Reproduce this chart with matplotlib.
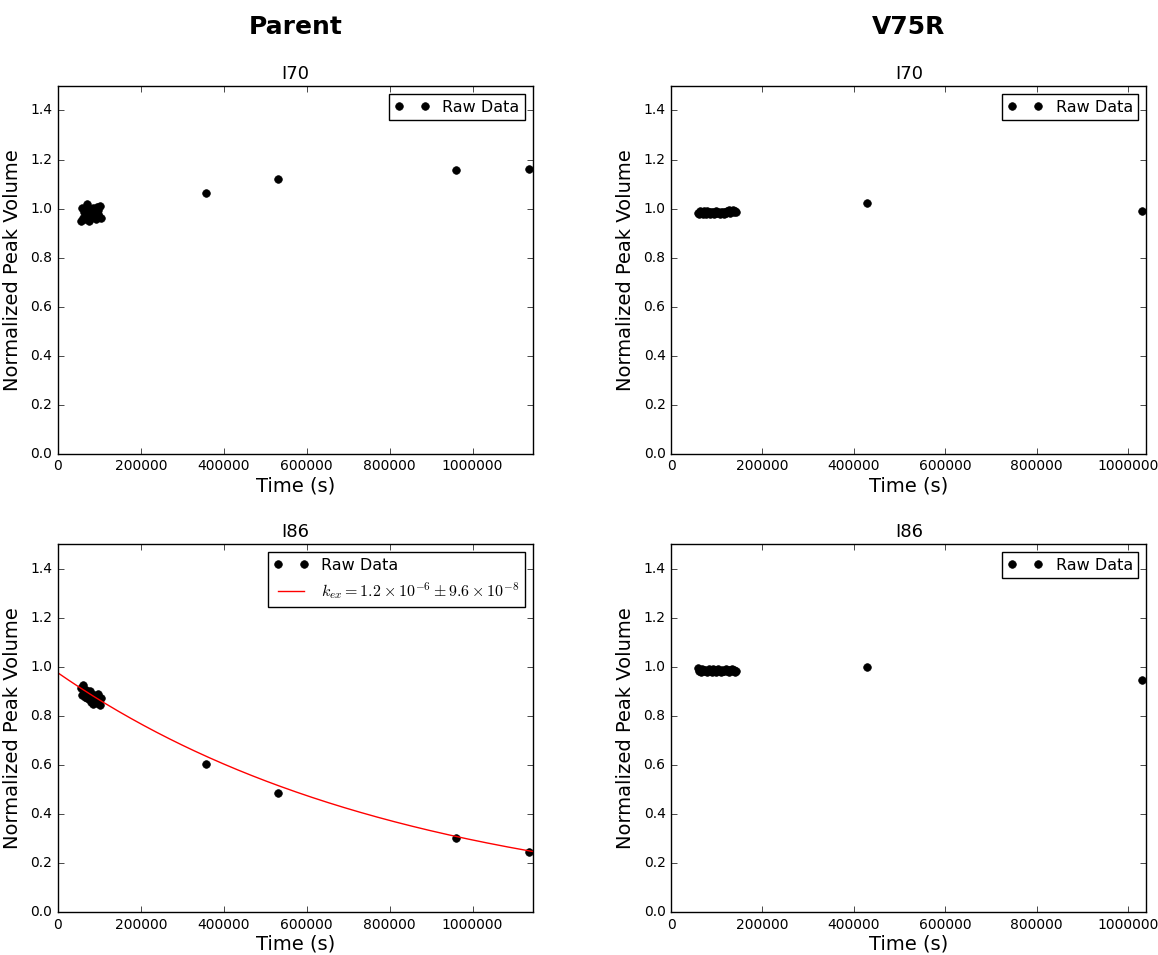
import numpy as np
import matplotlib
matplotlib.use('Agg')
import matplotlib.pyplot as plt

plt.style.use('classic')

# time points (s)
parent_t = [56000, 58200, 60400, 62600, 64800, 67000, 69200, 71400, 73600, 75800,
            78000, 80200, 82400, 84600, 86800, 89000, 91200, 93400, 95600, 97800,
            100000, 102200, 104400, 358000, 530000, 961000, 1135000]
v75r_t = [58000, 60400, 62800, 65200, 67600, 70000, 72400, 74800, 77200, 79600,
          82000, 84400, 86800, 89200, 91600, 94000, 96400, 98800, 101200, 103600,
          106000, 108400, 110800, 113200, 115600, 118000, 120400, 122800, 125200, 127600,
          130000, 132400, 134800, 137200, 139600, 142000, 428000, 1030000]

# normalized peak volumes
parent_i70 = [0.948, 1.002, 0.962, 0.985, 0.957, 0.993, 1.018, 0.969, 0.975, 0.951,
              0.998, 0.983, 0.966, 1.004, 0.972, 0.990, 0.958, 1.008, 0.979, 0.995,
              0.967, 1.011, 0.962, 1.064, 1.119, 1.156, 1.163]
parent_i86 = [0.912, 0.885, 0.924, 0.896, 0.878, 0.905, 0.871, 0.893, 0.882, 0.867,
              0.899, 0.858, 0.876, 0.848, 0.884, 0.862, 0.871, 0.851, 0.889, 0.857,
              0.866, 0.842, 0.872, 0.602, 0.484, 0.301, 0.246]
v75r_i70 = [0.984, 0.978, 0.991, 0.982, 0.987, 0.976, 0.989, 0.983, 0.980, 0.992,
            0.985, 0.979, 0.986, 0.981, 0.988, 0.977, 0.984, 0.990, 0.982, 0.986,
            0.979, 0.987, 0.983, 0.985, 0.980, 0.988, 0.984, 0.991, 0.986, 0.993,
            0.981, 0.989, 0.996, 0.985, 0.992, 0.988, 1.021, 0.991]
v75r_i86 = [0.993, 0.984, 0.988, 0.979, 0.990, 0.985, 0.981, 0.987, 0.983, 0.978,
            0.989, 0.984, 0.986, 0.980, 0.991, 0.982, 0.987, 0.979, 0.985, 0.990,
            0.983, 0.977, 0.988, 0.984, 0.981, 0.986, 0.992, 0.983, 0.987, 0.980,
            0.985, 0.989, 0.982, 0.986, 0.979, 0.984, 0.998, 0.947]

# single exponential fit for parent I86
fit_amp = 0.975
fit_k = 1.2e-6
fit_k_err = 9.6e-8

fig = plt.figure(figsize=(11.58, 9.55), dpi=100, facecolor='white')
gs = fig.add_gridspec(2, 2, left=0.050, right=0.990, top=0.910, bottom=0.045,
                      wspace=0.29, hspace=0.245)

panels = [
    (0, 0, parent_t, parent_i70, 'I70', False),
    (0, 1, v75r_t, v75r_i70, 'I70', False),
    (1, 0, parent_t, parent_i86, 'I86', True),
    (1, 1, v75r_t, v75r_i86, 'I86', False),
]

for row, col, t, y, name, show_fit in panels:
    ax = fig.add_subplot(gs[row, col])
    xmax = max(t) * 1.01
    ax.plot(t, y, 'ko', markersize=5.5, label='Raw Data')
    if show_fit:
        tt = np.linspace(0, xmax, 300)
        ax.plot(tt, fit_amp * np.exp(-fit_k * tt), 'r-',
                label=r'$k_{ex} = 1.2 \times 10^{-6} \pm 9.6 \times 10^{-8}$')
    ax.set_xlim(0, xmax)
    ax.set_ylim(0, 1.5)
    ax.set_title(name, fontsize=13)
    ax.set_xlabel('Time (s)', fontsize=14, labelpad=2)
    ax.set_ylabel('Normalized Peak Volume', fontsize=14, labelpad=6)
    ax.tick_params(labelsize=10)
    ax.ticklabel_format(style='plain', axis='x', useOffset=False)
    leg = ax.legend(loc='upper right', numpoints=2, fontsize=11.5,
                    handlelength=2.2, borderpad=0.35)

fig.text(0.2555, 0.972, 'Parent', ha='center', va='center', fontsize=18, fontweight='bold')
fig.text(0.7845, 0.972, 'V75R', ha='center', va='center', fontsize=18, fontweight='bold')

plt.savefig('out.png', dpi=100, facecolor='white')
